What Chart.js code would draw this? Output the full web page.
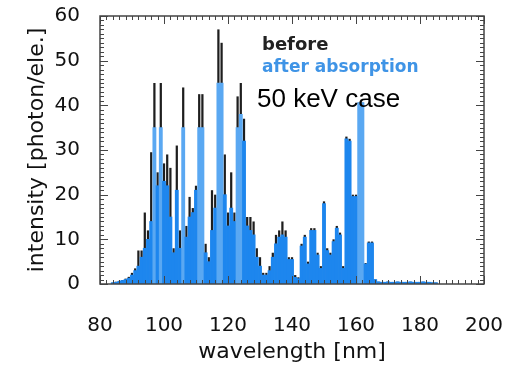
<!DOCTYPE html>
<html>
<head>
<meta charset="utf-8">
<script src="https://cdn.jsdelivr.net/npm/chart.js@4"></script>
<style>
  html, body { margin: 0; padding: 0; background: #fff; }
  #wrap { width: 529px; height: 375px; position: relative; }
</style>
</head>
<body>
<div id="wrap"><canvas id="chart"></canvas></div>
<script>
// wavelength bins [nm]
const wavelength = [
  84, 85, 86, 87, 88, 89, 90, 91, 92, 93, 94, 95, 96, 97, 98, 99,
  100, 101, 102, 103, 104, 105, 106, 107, 108, 109, 110, 111, 112, 113, 114, 115,
  116, 117, 118, 119, 120, 121, 122, 123, 124, 125, 126, 127, 128, 129, 130, 131,
  132, 133, 134, 135, 136, 137, 138, 139, 140, 141, 142, 143, 144, 145, 146, 147,
  148, 149, 150, 151, 152, 153, 154, 155, 156, 157, 158, 159, 160, 161, 162, 163,
  164, 165, 166, 167, 168, 169, 170, 171, 172, 173, 174, 175, 176, 177, 178, 179,
  180, 181, 182, 183, 184, 185
];

// intensity before absorption [photon/ele.]
const before = [
  0.3, 0.5, 0.7, 0.9, 1.2, 1.6, 2.5, 3.5, 7.5, 7.5, 16, 12, 29.5, 45, 25, 45,
  27, 29, 26, 8, 31, 12, 44, 13, 19.5, 17, 22, 42.5, 42.5, 9, 6, 21,
  20, 57, 54, 29, 16, 25, 16, 42, 45, 37, 15, 15, 14, 8, 6, 2.5,
  2.5, 4, 7, 11, 12, 14, 12, 6, 6, 2, 1.5, 9, 11, 5, 12.5, 12.5,
  7, 4, 18.5, 8, 7, 10, 13, 11.5, 4, 33, 32.5, 20, 20, 40.6, 40.6, 4.7,
  9.5, 9.5, 1, 0.5, 0.4, 0.4, 0.5, 0.4, 0.4, 0.5, 0.4, 0.4, 0.4, 0.5, 0.4, 0.4,
  0.4, 0.5, 0.4, 0.4, 0.3, 0.3
];

// intensity after absorption [photon/ele.]
const after = [
  0.3, 0.4, 0.6, 0.8, 1.0, 1.3, 2.0, 3.0, 4.0, 6, 8, 10, 14, 35, 22, 35,
  23, 22, 15, 7, 21, 8, 35, 10.5, 15, 16, 21, 35, 35, 7, 5, 12,
  17, 45, 45, 20, 13, 17, 14, 35, 38, 32, 13, 12, 11, 6, 4, 2,
  2, 3, 6, 9, 10.5, 11, 10.5, 5.5, 5.5, 1.5, 1.2, 8.5, 10.5, 4.5, 12, 12,
  6.5, 3.5, 18, 7.5, 6.5, 9.5, 12.5, 11, 3.5, 32.5, 32, 19.6, 19.6, 40.6, 40.6, 4.5,
  9.2, 9.2, 1, 0.5, 0.4, 0.4, 0.5, 0.4, 0.4, 0.5, 0.4, 0.4, 0.4, 0.5, 0.4, 0.4,
  0.4, 0.5, 0.4, 0.4, 0.3, 0.3
];

const yTicks = [0, 10, 20, 30, 40, 50, 60];
const xTicks = [80, 100, 120, 140, 160, 180, 200];

const FONT = "'DejaVu Sans', sans-serif";

const toPoints = vals => wavelength.map((w, i) => ({ x: w, y: vals[i] }));

// frame with inward ticks on all four sides, plus the text labels
const framePlugin = {
  id: 'frame',
  afterDraw(chart) {
    const { ctx, chartArea: a, scales: { x, y } } = chart;
    ctx.save();
    ctx.strokeStyle = '#444';
    ctx.lineWidth = 1.5;
    ctx.strokeRect(a.left, a.top, a.right - a.left, a.bottom - a.top);

    ctx.lineWidth = 1;
    ctx.beginPath();
    for (let v = 80; v <= 200; v += 2) {
      const px = Math.round(x.getPixelForValue(v)) + 0.5;
      const len = v % 20 === 0 ? 8 : 4;
      ctx.moveTo(px, a.bottom); ctx.lineTo(px, a.bottom - len);
      ctx.moveTo(px, a.top); ctx.lineTo(px, a.top + len);
    }
    for (let v = 0; v <= 60; v += 1) {
      const py = Math.round(y.getPixelForValue(v)) + 0.5;
      const len = v % 10 === 0 ? 8 : 4;
      ctx.moveTo(a.left, py); ctx.lineTo(a.left + len, py);
      ctx.moveTo(a.right, py); ctx.lineTo(a.right - len, py);
    }
    ctx.stroke();

    ctx.textBaseline = 'alphabetic';
    ctx.textAlign = 'left';
    ctx.fillStyle = '#222';
    ctx.font = 'bold 18px ' + FONT;
    ctx.fillText('before', 262, 50);
    ctx.fillStyle = '#3f94e6';
    ctx.font = 'bold 17px ' + FONT;
    ctx.fillText('after absorption', 262, 72);
    ctx.fillStyle = '#000';
    ctx.font = "26px 'Liberation Sans', sans-serif";
    ctx.fillText('50 keV case', 257, 107);
    ctx.restore();
  }
};

const canvas = document.getElementById('chart');

const chart = new Chart(canvas, {
  type: 'bar',
  data: {
    datasets: [
      {
        label: 'after absorption',
        data: toPoints(after),
        backgroundColor: c => (c.raw && c.raw.y > 34 ? '#5aa8f2' : '#1d86ee'),
        borderWidth: 0,
        barPercentage: 1,
        categoryPercentage: 1,
        grouped: false
      },
      {
        label: 'before',
        data: toPoints(before),
        backgroundColor: '#1e1e1e',
        borderWidth: 0,
        barPercentage: 0.7,
        categoryPercentage: 1,
        grouped: false
      }
    ]
  },
  options: {
    responsive: true,
    maintainAspectRatio: false,
    animation: false,
    layout: { padding: { top: 16, right: 45, left: 0, bottom: 0 } },
    plugins: {
      legend: { display: false },
      tooltip: { enabled: false }
    },
    scales: {
      x: {
        type: 'linear',
        min: 80,
        max: 200,
        offset: false,
        afterFit: s => { s.height = 91; s.paddingLeft = 0; s.paddingRight = 0; },
        afterBuildTicks: s => { s.ticks = xTicks.map(v => ({ value: v })); },
        grid: { display: false, offset: false },
        border: { display: false },
        ticks: {
          padding: 22,
          color: '#111',
          font: { family: FONT, size: 20 },
          maxRotation: 0
        },
        title: {
          display: true,
          text: 'wavelength [nm]',
          color: '#111',
          font: { family: FONT, size: 22 },
          padding: { top: 0, bottom: 10 }
        }
      },
      y: {
        min: 0,
        max: 60,
        afterFit: s => { s.width = 100; s.paddingTop = 0; s.paddingBottom = 0; },
        afterBuildTicks: s => { s.ticks = yTicks.map(v => ({ value: v })); },
        grid: { display: false },
        border: { display: false },
        ticks: {
          padding: 12,
          color: '#111',
          font: { family: FONT, size: 20 }
        },
        title: {
          display: true,
          text: 'intensity [photon/ele.]',
          color: '#111',
          font: { family: FONT, size: 22 },
          padding: { top: 24, bottom: 0 }
        }
      }
    }
  },
  plugins: [framePlugin]
});
</script>
</body>
</html>
